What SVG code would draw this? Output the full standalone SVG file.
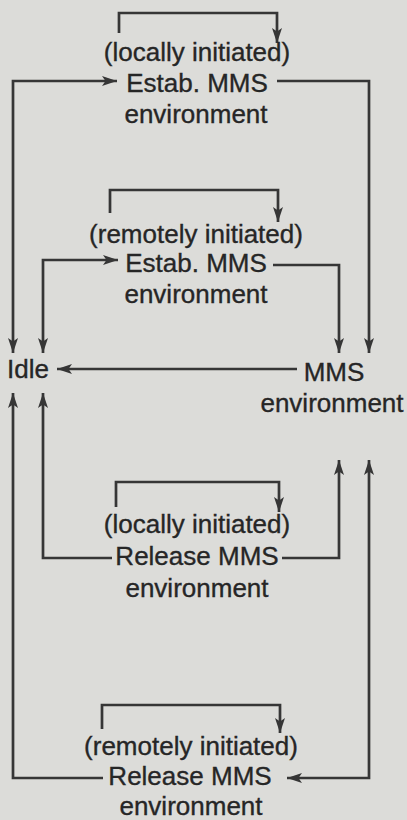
<svg xmlns="http://www.w3.org/2000/svg" width="407" height="820" viewBox="0 0 407 820">
<style>
.t{font-family:"Liberation Sans",Arial,Helvetica,sans-serif;font-size:26px;fill:#262626;stroke:#262626;stroke-width:0.35;text-anchor:middle}
.c{fill:none;stroke:#363636;stroke-width:2.7;stroke-linejoin:miter}
</style>
<defs>
<marker id="ah" markerUnits="userSpaceOnUse" markerWidth="17" markerHeight="11" refX="15" refY="5" orient="auto-start-reverse">
<path d="M0,0 L15,5 L0,10 L3.5,5 Z" fill="#363636"/>
</marker>
</defs>
<rect width="407" height="820" fill="#dcdcd9"/>
<g id="connectors">
<path class="c" d="M13,353 V81 H117" marker-start="url(#ah)" marker-end="url(#ah)"/>
<path class="c" d="M277,81 H369 V353" marker-end="url(#ah)"/>
<path class="c" d="M119,33 V13 H277 V43" marker-end="url(#ah)"/>
<path class="c" d="M43,353 V260 H118" marker-start="url(#ah)" marker-end="url(#ah)"/>
<path class="c" d="M273,265 H339 V353" marker-end="url(#ah)"/>
<path class="c" d="M110,213 V190 H278 V222" marker-end="url(#ah)"/>
<path class="c" d="M297,369 H57" marker-end="url(#ah)"/>
<path class="c" d="M112,558 H43 V393" marker-end="url(#ah)"/>
<path class="c" d="M282,558 H339 V460" marker-end="url(#ah)"/>
<path class="c" d="M116,507 V482 H279 V512" marker-end="url(#ah)"/>
<path class="c" d="M103,778 H13 V393" marker-end="url(#ah)"/>
<path class="c" d="M287,778 H369 V460" marker-start="url(#ah)" marker-end="url(#ah)"/>
<path class="c" d="M102,729 V705 H280 V733" marker-end="url(#ah)"/>
</g>
<g id="idle">
<text class="t" x="7" y="378" style="text-anchor:start">Idle</text>
</g>
<g id="mms-environment">
<text class="t" x="334" y="381">MMS</text>
<text class="t" x="332" y="412">environment</text>
</g>
<g id="estab-local">
<text class="t" x="197" y="61">(locally initiated)</text>
<text class="t" x="197" y="92">Estab. MMS</text>
<text class="t" x="196" y="123">environment</text>
</g>
<g id="estab-remote">
<text class="t" x="196" y="243">(remotely initiated)</text>
<text class="t" x="196" y="272">Estab. MMS</text>
<text class="t" x="196" y="303">environment</text>
</g>
<g id="release-local">
<text class="t" x="197" y="533">(locally initiated)</text>
<text class="t" x="197" y="565">Release MMS</text>
<text class="t" x="197" y="597">environment</text>
</g>
<g id="release-remote">
<text class="t" x="191" y="755">(remotely initiated)</text>
<text class="t" x="190" y="785">Release MMS</text>
<text class="t" x="191" y="815">environment</text>
</g>
</svg>
